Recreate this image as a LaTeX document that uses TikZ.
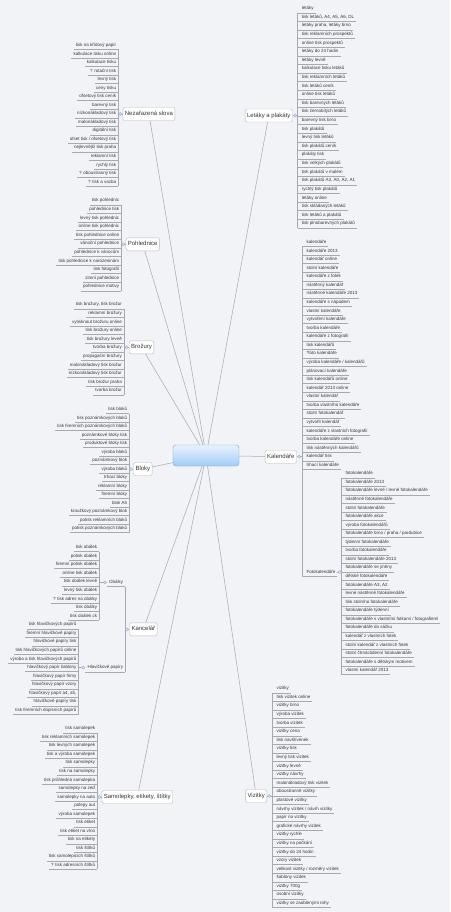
\documentclass[tikz,border=0pt]{standalone}
\usepackage{fontspec}
\setmainfont{Liberation Sans}
\definecolor{bgc}{RGB}{242,243,247}
\definecolor{linec}{RGB}{168,168,174}
\definecolor{txt}{RGB}{55,55,55}
\definecolor{dotfill}{RGB}{210,226,246}
\definecolor{dotdraw}{RGB}{140,172,215}
\definecolor{ctop}{RGB}{232,243,254}
\definecolor{cbot}{RGB}{160,205,248}
\definecolor{cdraw}{RGB}{120,165,212}
\tikzset{
 itemR/.style={anchor=south west, inner xsep=2pt, inner ysep=1.8pt, font=\fontsize{4.5}{5}\selectfont, text=txt, text height=3.3pt, text depth=1pt},
 itemL/.style={itemR, anchor=south east},
 uline/.style={draw=linec, line width=0.5pt},
 branch/.style={draw=gray!55, fill=white, rounded corners=2pt, font=\fontsize{6}{7}\selectfont, text=txt, inner xsep=2pt, minimum height=13pt, text height=4.5pt, text depth=1.3pt},
 dotmark/.style={circle, draw=dotdraw, fill=dotfill, inner sep=0pt, minimum size=3.2pt, line width=0.3pt},
 conn/.style={draw=linec, line width=0.5pt},
 centre/.style={draw=cdraw, top color=ctop, bottom color=cbot, rounded corners=3pt, minimum width=66pt, minimum height=21pt, inner sep=0pt},
}
% right-hand list: prefix, trunk x, first text y, spacing, count, items
\newcommand{\RList}[6]{%
 \foreach \itm [count=\i] in {#6} {
   \node[itemR] (#1-\i) at (#2, {#3+(\i-1)*#4+4.5}) {\hspace{2pt}\itm};
   \draw[uline] (#1-\i.south west) -- (#1-\i.south east);
 }
 \draw[uline] (#1-1.south west) -- (#1-#5.south west);
}
\newcommand{\LList}[6]{%
 \foreach \itm [count=\i] in {#6} {
   \node[itemL] (#1-\i) at (#2, {#3+(\i-1)*#4+4.5}) {\itm\hspace{3pt}};
   \draw[uline] (#1-\i.south east) -- (#1-\i.south west);
 }
 \draw[uline] (#1-1.south east) -- (#1-#5.south east);
}
\begin{document}
\begin{tikzpicture}[x=1pt,y=-1pt]
\fill[bgc] (0,0) rectangle (450,912);
\useasboundingbox (0,0) rectangle (450,912);

\node[centre] (c) at (206,455.5) {};

% ---------- Letáky a plakáty
\node[branch, anchor=east] (leN) at (292.7,115.5) {Letáky a plakáty};
\RList{L}{297.7}{8.3}{8.6}{26}{{letáky},{tisk letáků, A4, A5, A6, DL},{letáky praha, letáky brno},{tisk reklamních prospektů},{online tisk prospektů},{letáky do 24 hodin},{letáky levně},{kalkulace tisku letáků},{tisk reklamních letáků},{tisk letáků ceník},{online tisk letáků},{tisk barevných letáků},{tisk černobílých letáků},{barevný tisk brno},{tisk plakátů},{levný tisk letáků},{tisk plakátů ceník},{plakáty tisk},{tisk velkých plakátů},{tisk plakátů v malém},{tisk plakátů A3, A0, A2, A1},{rychlý tisk plakátů},{letáky online},{tisk skládaných letáků},{tisk letáků a plakátů},{tisk plnobarevných plakátů}}
\draw[uline] (leN.east) -- (L-1.south west |- leN.east);
\node[dotmark] (leD) at ([xshift=2.5pt]leN.east) {};

% ---------- Kalendáře
\node[branch, anchor=east] (kalN) at (296.7,456.7) {Kalendáře};
\RList{K}{302.3}{242}{8.57}{27}{{kalendáře},{kalendáře 2013},{kalendář online},{stolní kalendáře},{kalendáře z fotek},{nástěnný kalendář},{nástěnné kalendáře 2013},{kalendáře s nápadem},{vlastní kalendáře},{vytvoření kalendáře},{tvorba kalendáře},{kalendáře z fotografií},{tisk kalendářů},{*foto kalendáře},{výroba kalendáře / kalendářů},{plánovací kalendáře},{tisk kalendářů online},{kalendář 2013 online},{vlastní kalendář},{tvorba vlastního kalendáře},{stolní fotokalendář},{vytvořit kalendář},{kalendáře z vlastních fotografií},{tvorba kalendáře online},{tisk nástěnných kalendářů},{kalendář tisk},{trhací kalendáře}}
\node[itemR] (fk) at (302.3,576.2) {\hspace{2pt}Fotokalendáře};
\draw[uline] (fk.south west) -- (fk.south east);
\draw[uline] (K-1.south west) -- (fk.south west);
\draw[uline] (kalN.east) -- (K-1.south west |- kalN.east);
\node[dotmark] (kalD) at ([xshift=2.6pt]kalN.east) {};
\RList{F}{341.3}{473.3}{8.56}{24}{{fotokalendáře},{fotokalendáře 2013},{fotokalendáře levné / levné fotokalendáře},{nástěnné fotokalendáře},{stolní fotokalendáře},{fotokalendáře akce},{výroba fotokalendářů},{fotokalendáře brno / praha / pardubice},{týdenní fotokalendáře},{tvorba fotokalendáře},{stolní fotokalendáře 2013},{fotokalendáře se jmény},{dětské fotokalendáře},{fotokalendáře A3, A2},{levné nástěnné fotokalendáře},{tisk stolního fotokalendáře},{fotokalendáře týdenní},{fotokalendáře s vlastními fotkami / fotografiemi},{fotokalendáře do sáčku},{kalendář z vlastních fotek},{stolní kalendář z vlastních fotek},{stolní čtrnáctidenní fotokalendáře},{fotokalendáře s dětským motivem},{vlastní kalendář 2013}}
\draw[uline] (fk.east) -- (F-1.south west |- fk.east);
\node[dotmark] (fkD) at ([xshift=2.4pt]fk.east) {};

% ---------- Vizitky
\node[branch, anchor=east] (viN) at (267,796) {Vizitky};
\RList{V}{272.3}{688.3}{8.59}{26}{{vizitky},{tisk vizitek online},{vizitky brno},{výroba vizitek},{tvorba vizitek},{vizitky cena},{tisk navštívenek},{vizitky tisk},{levný tisk vizitek},{vizitky levně},{vizitky návrhy},{malonákladový tisk vizitek},{oboustranné vizitky},{plastové vizitky},{návrhy vizitek / návrh vizitky},{papír na vizitky},{grafické návrhy vizitek},{vizitky rychle},{vizitky na počkání},{vizitky do 24 hodin},{vzory vizitek},{velikost vizitky / rozměry vizitek},{šablony vizitek},{vizitky 700g},{osobní vizitky},{vizitky se zaoblenými rohy}}
\draw[uline] (viN.east) -- (V-1.south west |- viN.east);
\node[dotmark] (viD) at ([xshift=2.6pt]viN.east) {};

% ---------- Nezařazená slova
\node[branch, anchor=west] (nzN) at (122.7,114) {Nezařazená slova};
\LList{N}{118.3}{45}{8.54}{17}{{tisk na křídový papír},{kalkulace tisku online},{kalkulace tisku},{? rotační tisk},{levný tisk},{ceny tisku},{ofsetový tisk ceník},{barevný tisk},{nízkonákladový tisk},{malonákladový tisk},{digitální tisk},{ofset tisk / ofsetový tisk},{nejlevnější tisk praha},{reklamní tisk},{rychlý tisk},{? oboustranný tisk},{? tisk a vazba}}
\draw[uline] (nzN.west) -- (N-1.south east |- nzN.west);
\node[dotmark] (nzD) at ([xshift=-2.4pt]nzN.west) {};

% ---------- Pohlednice
\node[branch, anchor=west] (poN) at (125.7,244.3) {Pohlednice};
\LList{P}{121.3}{200.3}{8.6}{11}{{tisk pohlednic},{pohlednice tisk},{levný tisk pohlednic},{online tisk pohlednic},{tisk pohlednice online},{vánoční pohlednice},{pohlednice k vánocům},{tisk pohlednice k narozeninám},{tisk fotografií},{zimní pohlednice},{pohlednice motivy}}
\draw[uline] (poN.west) -- (P-1.south east |- poN.west);
\node[dotmark] (poD) at ([xshift=-2.4pt]poN.west) {};

% ---------- Brožury
\node[branch, anchor=west] (brN) at (129,347.3) {Brožury};
\LList{B}{124}{304.3}{8.6}{11}{{tisk brožury, tisk brožur},{reklamní brožury},{vytisknout brožuru online},{tisk brožury online},{tisk brožury levně},{tvorba brožury},{propagační brožury},{malonákladový tisk brožur},{nízkonákladový tisk brožur},{tisk brožur praha},{tvorba brožur}}
\draw[uline] (brN.west) -- (B-1.south east |- brN.west);
\node[dotmark] (brD) at ([xshift=-2.4pt]brN.west) {};

% ---------- Bloky
\node[branch, anchor=west] (blN) at (133.3,469) {Bloky};
\LList{BL}{129.3}{409}{8.5}{15}{{tisk bloků},{tisk poznámkových bloků},{tisk firemních poznámkových bloků},{poznámkové bloky tisk},{produktové bloky tisk},{výroba bloků},{poznámkový blok},{výroba bloků},{trhací bloky},{reklamní bloky},{firemní bloky},{blok A5},{kroužkový poznámkový blok},{potisk reklamních bloků},{potisk poznámkových bloků}}
\draw[uline] (blN.west) -- (BL-1.south east |- blN.west);
\node[dotmark] (blD) at ([xshift=-2.4pt]blN.west) {};

% ---------- Kancelář
\node[branch, anchor=west] (kaN) at (129.3,629.3) {Kancelář};
\node[itemL] (ob) at (125.3,586.5) {Obálky\hspace{3pt}};
\node[itemL] (hp) at (125.3,671.8) {Hlavičkové papíry\hspace{3pt}};
\draw[uline] (ob.south east) -- (ob.south west);
\draw[uline] (hp.south east) -- (hp.south west);
\draw[uline] (ob.south east) -- (hp.south east);
\draw[uline] (kaN.west) -- (ob.south east |- kaN.west);
\node[dotmark] (kaD) at ([xshift=-2.4pt]kaN.west) {};
\LList{O}{99.3}{547}{8.6}{9}{{tisk obálek},{potisk obálek},{firemní potisk obálek},{online tisk obálek},{tisk obálek levně},{levný tisk obálek},{? tisk adres na obálky},{tisk obálky},{tisk obálek ck}}
\draw[uline] (ob.west) -- (O-1.south east |- ob.west);
\node[dotmark] (obD) at ([xshift=-2pt]ob.west) {};
\LList{H}{78.7}{624.3}{8.57}{11}{{tisk hlavičkových papírů},{firemní hlavičkové papíry},{hlavičkové papíry tisk},{tisk hlavičkových papírů online},{výroba a tisk hlavičkových papírů},{hlavičkový papír šablony},{hlavičkový papír firmy},{hlavičkový papír vzory},{hlavičkový papír a4, a5,},{hlavičkové papíry tisk},{tisk firemních dopisních papírů}}
\draw[uline] (hp.west) -- (H-1.south east |- hp.west);
\node[dotmark] (hpD) at ([xshift=-2pt]hp.west) {};

% ---------- Samolepky
\node[branch, anchor=west] (saN) at (101.7,797) {Samolepky, etikety, štítky};
\LList{S}{97.3}{728.3}{8.54}{17}{{tisk samolepek},{tisk reklamních samolepek},{tisk levných samolepek},{tisk a výroba samolepek},{tisk samolepky},{tisk na samolepky},{tisk průhledná samolepka},{samolepky na zeď},{samolepky na auto},{polepy aut},{výroba samolepek},{tisk etiket},{tisk etiket na víno},{tisk na etikety},{tisk štítků},{tisk samolepicích štítků},{? tisk adresních štítků}}
\draw[uline] (saN.west) -- (S-1.south east |- saN.west);
\node[dotmark] (saD) at ([xshift=-2.4pt]saN.west) {};

% ---------- connectors from the centre
\foreach \n in {leN,kalN,viN,nzN,poN,brN,blN,kaN,saN}
  \draw[conn] (c) -- (\n);
\end{tikzpicture}
\end{document}
